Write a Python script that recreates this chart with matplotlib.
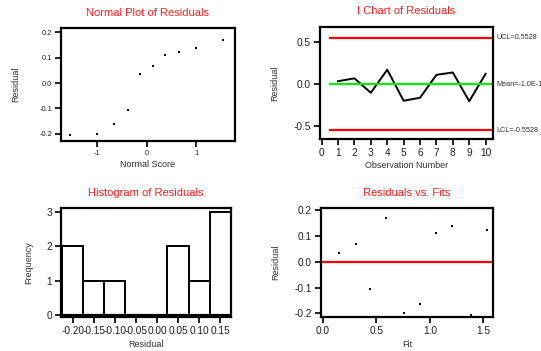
import numpy as np
import matplotlib.pyplot as plt

plt.rcParams['font.family'] = ['Liberation Sans', 'DejaVu Sans']

# residuals in observation order and their fits
obs = [1, 2, 3, 4, 5, 6, 7, 8, 9, 10]
residuals = [0.034, 0.068, -0.104, 0.171, -0.199, -0.163, 0.110, 0.138, -0.205, 0.122]
fits = [0.155, 0.311, 0.445, 0.595, 0.763, 0.912, 1.059, 1.211, 1.380, 1.532]
normal_scores = [-1.547, -1.000, -0.655, -0.375, -0.123, 0.123, 0.375, 0.655, 1.000, 1.547]

# control limits
ucl = 0.5528
lcl = -0.5528
mean_label = "Mean=-1.0E-16"

# histogram bins
bin_centers = [-0.20, -0.15, -0.10, -0.05, 0.00, 0.05, 0.10, 0.15]
bin_counts = [2, 1, 1, 0, 0, 2, 1, 3]

W, H = 541, 351
fig = plt.figure(figsize=(W / 100, H / 100), dpi=100)


def make_ax(l, r, t, b):
    ax = fig.add_axes([l / W, 1 - b / H, (r - l) / W, (b - t) / H])
    for s in ax.spines.values():
        s.set_linewidth(1.6)
    ax.tick_params(direction='out', length=4.5, width=1.4, pad=2, colors='#222222')
    return ax


title_kw = dict(color='#ff2020', fontsize=8, pad=9)
lab_kw = dict(fontsize=6.5, color='#333333')

# Normal plot
ax1 = make_ax(61, 235, 28, 141)
ax1.scatter(normal_scores, sorted(residuals), s=0.6, color='black', marker='s', linewidths=0)
ax1.set_xlim(-1.72, 1.78)
ax1.set_ylim(-0.228, 0.217)
ax1.set_xticks([-1, 0, 1])
ax1.set_yticks([-0.2, -0.1, 0.0, 0.1, 0.2])
ax1.set_yticklabels(['-0.2', '-0.1', '0.0', '0.1', '0.2'])
ax1.set_xticklabels(['-1', '0', '1'])
ax1.tick_params(labelsize=5.3)
ax1.set_title('Normal Plot of Residuals', **title_kw)
ax1.set_xlabel('Normal Score', labelpad=2, **lab_kw)
ax1.set_ylabel('Residual', labelpad=14, **lab_kw)

# I chart
ax2 = make_ax(320, 493, 27, 139)
ax2.plot(obs, residuals, color='black', lw=1.4)
ax2.plot([0.5, 10.5], [ucl, ucl], color='#ff0000', lw=1.6)
ax2.plot([0.5, 10.5], [lcl, lcl], color='#ff0000', lw=1.6)
ax2.plot([0.5, 10.5], [0, 0], color='#00ee00', lw=1.6)
ax2.set_xlim(-0.1, 10.45)
ax2.set_ylim(-0.655, 0.68)
ax2.set_xticks(range(0, 11))
ax2.set_yticks([-0.5, 0.0, 0.5])
ax2.set_yticklabels(['-0.5', '0.0', '0.5'])
ax2.tick_params(labelsize=7.3)
ax2.set_title('I Chart of Residuals', **title_kw)
ax2.set_xlabel('Observation Number', labelpad=2, **lab_kw)
ax2.set_ylabel('Residual', labelpad=10, **lab_kw)
tk = dict(fontsize=5.2, color='#333333', va='center', transform=ax2.get_yaxis_transform(), clip_on=False)
ax2.text(1.02, ucl, 'UCL=%.4f' % ucl, **tk)
ax2.text(1.02, 0, mean_label, **tk)
ax2.text(1.02, lcl, 'LCL=%.4f' % lcl, **tk)

# Histogram
ax3 = make_ax(61, 231, 208, 317)
ax3.bar(bin_centers, bin_counts, width=0.05, color='white', edgecolor='black', linewidth=1.4)
ax3.axhline(0, color='black', lw=1.6)
ax3.set_xlim(-0.228, 0.176)
ax3.set_ylim(-0.07, 3.13)
ax3.set_xticks(bin_centers)
ax3.set_xticklabels(['%.2f' % v for v in bin_centers])
ax3.set_yticks([0, 1, 2, 3])
ax3.tick_params(labelsize=7.3)
ax3.set_title('Histogram of Residuals', **title_kw)
ax3.set_xlabel('Residual', labelpad=3, **lab_kw)
ax3.set_ylabel('Frequency', labelpad=9, **lab_kw)

# Residuals vs fits
ax4 = make_ax(321, 493, 208, 317)
ax4.scatter(fits, residuals, s=0.6, color='black', marker='s', linewidths=0)
ax4.axhline(0, color='#ff0000', lw=1.6)
ax4.set_xlim(-0.016, 1.59)
ax4.set_ylim(-0.214, 0.208)
ax4.set_xticks([0.0, 0.5, 1.0, 1.5])
ax4.set_xticklabels(['0.0', '0.5', '1.0', '1.5'])
ax4.set_yticks([-0.2, -0.1, 0.0, 0.1, 0.2])
ax4.set_yticklabels(['-0.2', '-0.1', '0.0', '0.1', '0.2'])
ax4.tick_params(labelsize=7.3)
ax4.set_title('Residuals vs. Fits', **title_kw)
ax4.set_xlabel('Fit', labelpad=3, **lab_kw)
ax4.set_ylabel('Residual', labelpad=10, **lab_kw)

fig.savefig('out.png', dpi=100, facecolor='white')
